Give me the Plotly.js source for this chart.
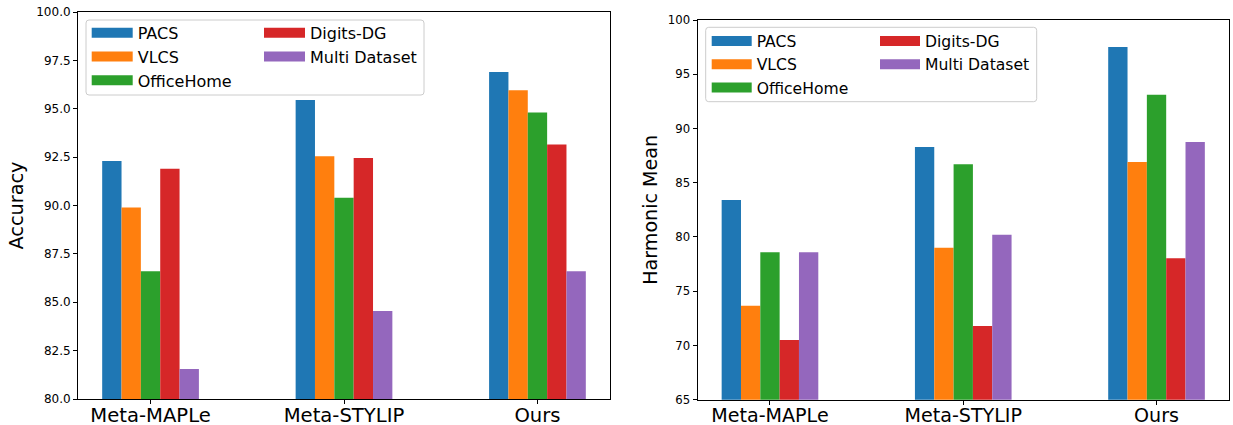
<!DOCTYPE html>
<html>
<head>
<meta charset="utf-8">
<script src="https://cdn.plot.ly/plotly-3.0.1.min.js"></script>
<style>html,body{margin:0;padding:0;background:#fff;}#chart{width:1233px;height:425px;}</style>
</head>
<body>
<div id="chart"></div>
<script>
// ---- data ----
const categories = ['Meta-MAPLe', 'Meta-STYLIP', 'Ours'];
const seriesNames = ['PACS', 'VLCS', 'OfficeHome', 'Digits-DG', 'Multi Dataset'];

const accPACS       = [92.3, 95.45, 96.9];
const accVLCS       = [89.9, 92.55, 95.95];
const accOfficeHome = [86.6, 90.4, 94.8];
const accDigitsDG   = [91.9, 92.45, 93.15];
const accMulti      = [81.55, 84.55, 86.6];

const hmPACS       = [83.4, 88.3, 97.5];
const hmVLCS       = [73.65, 79.0, 86.9];
const hmOfficeHome = [78.6, 86.7, 93.1];
const hmDigitsDG   = [70.5, 71.8, 78.05];
const hmMulti      = [78.6, 80.2, 88.75];

const accTitle = 'Accuracy';
const hmTitle = 'Harmonic Mean';

// ---- style ----
const colors = ['#1f77b4', '#ff7f0e', '#2ca02c', '#d62728', '#9467bd'];
const FONT = 'DejaVu Sans, sans-serif';
const W = 1233, H = 425;
const px = v => v / W;
const py = v => 1 - v / H;

const accSeries = [accPACS, accVLCS, accOfficeHome, accDigitsDG, accMulti];
const hmSeries = [hmPACS, hmVLCS, hmOfficeHome, hmDigitsDG, hmMulti];

const traces = [];
accSeries.forEach((vals, i) => {
  traces.push({type: 'bar', x: categories, y: vals, name: seriesNames[i], xaxis: 'x', yaxis: 'y',
    marker: {color: colors[i], line: {width: 0}}, showlegend: false});
});
hmSeries.forEach((vals, i) => {
  traces.push({type: 'bar', x: categories, y: vals, name: seriesNames[i], xaxis: 'x2', yaxis: 'y2',
    marker: {color: colors[i], line: {width: 0}}, showlegend: false});
});
// legend entries (wide patch style like the reference)
seriesNames.forEach((n, i) => {
  traces.push({type: 'scatter', mode: 'lines', x: [null], y: [null], xaxis: 'x', yaxis: 'y', name: n,
    line: {color: colors[i], width: 11}, legend: i < 3 ? 'legend' : 'legend2',
    showlegend: true, hoverinfo: 'skip'});
});
seriesNames.forEach((n, i) => {
  traces.push({type: 'scatter', mode: 'lines', x: [null], y: [null], xaxis: 'x2', yaxis: 'y2', name: n,
    line: {color: colors[i], width: 11}, legend: i < 3 ? 'legend3' : 'legend4',
    showlegend: true, hoverinfo: 'skip'});
});

function roundRect(x0, y0, x1, y1, r) {
  const X = v => px(v).toFixed(5), Y = v => py(v).toFixed(5);
  return `M${X(x0 + r)},${Y(y0)} L${X(x1 - r)},${Y(y0)} Q${X(x1)},${Y(y0)} ${X(x1)},${Y(y0 + r)} ` +
    `L${X(x1)},${Y(y1 - r)} Q${X(x1)},${Y(y1)} ${X(x1 - r)},${Y(y1)} L${X(x0 + r)},${Y(y1)} ` +
    `Q${X(x0)},${Y(y1)} ${X(x0)},${Y(y1 - r)} L${X(x0)},${Y(y0 + r)} Q${X(x0)},${Y(y0)} ${X(x0 + r)},${Y(y0)} Z`;
}

function xAxis(dom, anchor, fs) {
  return {domain: dom, anchor: anchor, type: 'category', range: [-0.375, 2.375], showline: true, mirror: true,
    linecolor: '#000', linewidth: 1, ticks: 'outside', ticklen: 4, tickwidth: 1, tickcolor: '#000',
    ticklabelstandoff: -6,
    showgrid: false, zeroline: false, tickfont: {family: FONT, size: fs, color: '#000'}, automargin: false};
}
function yAxis(dom, anchor, fs) {
  return {domain: dom, anchor: anchor, showline: true, mirror: true, linecolor: '#000', linewidth: 1,
    ticks: 'outside', ticklen: 4, tickwidth: 1, tickcolor: '#000', showgrid: false, zeroline: false,
    tickfont: {family: FONT, size: fs, color: '#000'}, automargin: false};
}
function leg(x, y, fs, iw) {
  return {x: px(x), y: py(y), xanchor: 'left', yanchor: 'top', bgcolor: 'rgba(0,0,0,0)', borderwidth: 0,
    font: {family: FONT, size: fs, color: '#000'}, orientation: 'v', itemwidth: iw, tracegroupgap: 0};
}

const layout = {
  width: W, height: H,
  margin: {l: 0, r: 0, t: 0, b: 0},
  paper_bgcolor: '#fff', plot_bgcolor: '#fff',
  barmode: 'group', bargap: 0.5, bargroupgap: 0,
  font: {family: FONT, color: '#000'},
  xaxis: xAxis([px(78), px(610)], 'y', 19.6),
  yaxis: Object.assign(yAxis([py(399), py(12)], 'x', 12), {range: [80, 100], tick0: 80, dtick: 2.5,
    tickformat: '.1f', title: {text: accTitle, font: {family: FONT, size: 19.3, color: '#000'}, standoff: 7}}),
  xaxis2: xAxis([px(697.5), px(1229)], 'y2', 19.1),
  yaxis2: Object.assign(yAxis([py(399.7), py(20)], 'x2', 11.7), {range: [65, 100], tick0: 65, dtick: 5,
    title: {text: hmTitle, font: {family: FONT, size: 19.1, color: '#000'}, standoff: 5}}),
  legend: leg(86.7, 15.8, 16, 41),
  legend2: leg(259, 15.8, 16, 41),
  legend3: leg(706.7, 24.4, 15.6, 40),
  legend4: leg(875, 24.4, 15.6, 40),
  shapes: [
    {type: 'path', xref: 'paper', yref: 'paper', path: roundRect(86, 20, 424, 95, 3),
      fillcolor: 'rgba(255,255,255,0.8)', line: {color: '#cccccc', width: 1}, layer: 'above'},
    {type: 'path', xref: 'paper', yref: 'paper', path: roundRect(705.7, 27.3, 1036.7, 101.7, 3),
      fillcolor: 'rgba(255,255,255,0.8)', line: {color: '#cccccc', width: 1}, layer: 'above'}
  ],
  showlegend: true
};

Plotly.newPlot('chart', traces, layout, {displayModeBar: false, staticPlot: true});
</script>
</body>
</html>
